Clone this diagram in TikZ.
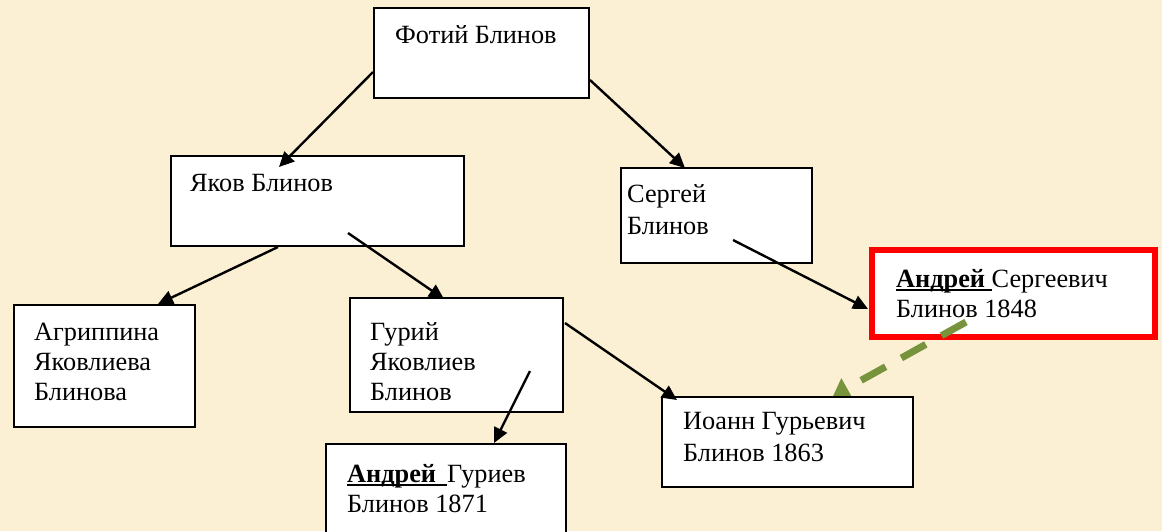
\documentclass[tikz,border=0pt]{standalone}
\usepackage{fontspec}
\setmainfont{Liberation Serif}
\usetikzlibrary{arrows.meta}
\definecolor{bg}{RGB}{252,240,212}
\definecolor{grn}{RGB}{119,147,60}
\newcommand\ulword[1]{\setbox0\hbox{#1}\rlap{\rule[-3.5pt]{\wd0}{1.8pt}}\box0}
\newcommand\lines[1]{\begin{tabular}[t]{@{}l@{}}#1\end{tabular}}
\begin{document}
\begin{tikzpicture}[x=1pt,y=-1pt,
  box/.style={draw=black,line width=1.8pt,fill=white,inner sep=0pt,outer sep=0pt,anchor=north west},
  redbox/.style={box,draw=red,line width=6pt},
  lbl/.style={anchor=base west,inner sep=0pt,font=\fontsize{26.3}{30}\selectfont},
  lblwide/.style={lbl,font=\fontsize{26.3}{32}\selectfont},
  arr/.style={line width=2.4pt,-{Triangle[length=15pt,width=14pt]}},
  garr/.style={draw=grn,line width=7pt,dash pattern=on 28pt off 18pt,-{Triangle[length=16pt,width=22pt]}}]
\clip (0,0) rectangle (1162,531);
\fill[bg] (0,0) rectangle (1162,531);

% red box and green connector (under Ioann box)
\node[redbox,minimum width=283pt,minimum height=87pt] (andreyS) at (872,250) {};
\coordinate (gs) at (966,322);
\coordinate (ge) at (833,396);
\draw[garr] (gs) -- (ge);

% boxes
\node[box,minimum width=215pt,minimum height=90pt] (fotiy) at (374,8) {};
\node[box,minimum width=293pt,minimum height=90pt] (yakov) at (171,156) {};
\node[box,minimum width=191pt,minimum height=95pt] (sergey) at (621,168) {};
\node[box,minimum width=181pt,minimum height=122pt] (agr) at (14,305) {};
\node[box,minimum width=213pt,minimum height=114pt] (guriy) at (350,298) {};
\node[box,minimum width=251pt,minimum height=90pt] (ioann) at (662,397) {};
\node[box,minimum width=240pt,minimum height=100pt] (andreyG) at (326,444) {};

% texts
\node[lbl] (tfotiy) at (395,43) {Фотий Блинов};
\node[lbl] (tyakov) at (190,191) {Яков Блинов};
\node[lblwide] (tsergey) at (627,202) {\lines{Сергей\\Блинов}};
\node[lbl] (tandreyS) at (896,287) {\lines{\ulword{\textbf{Андрей }}Сергеевич\\Блинов 1848}};
\node[lbl] (tagr) at (34,340) {\lines{Агриппина\\Яковлиева\\Блинова}};
\node[lbl] (tguriy) at (370,340) {\lines{Гурий\\Яковлиев\\Блинов}};
\node[lblwide] (tioann) at (683,429) {\lines{Иоанн Гурьевич\\Блинов 1863}};
\node[lbl] (tandreyG) at (347,482) {\lines{\ulword{\textbf{Андрей }\,}Гуриев\\Блинов 1871}};

% connector end points
\coordinate (s1) at (373,72);   \coordinate (e1) at (279,167);
\coordinate (s2) at (590,80);   \coordinate (e2) at (685,168);
\coordinate (s3) at (278,247);  \coordinate (e3) at (158,304);
\coordinate (s4) at (348,233);  \coordinate (e4) at (444,299);
\coordinate (s5) at (733,240);  \coordinate (e5) at (868,309);
\coordinate (s6) at (565,323);  \coordinate (e6) at (677,400);
\coordinate (s7) at (530,371);  \coordinate (e7) at (494,443);

\draw[arr] (s1) -- (e1);
\draw[arr] (s2) -- (e2);
\draw[arr] (s3) -- (e3);
\draw[arr] (s4) -- (e4);
\draw[arr] (s5) -- (e5);
\draw[arr] (s6) -- (e6);
\draw[arr] (s7) -- (e7);
\end{tikzpicture}
\end{document}
